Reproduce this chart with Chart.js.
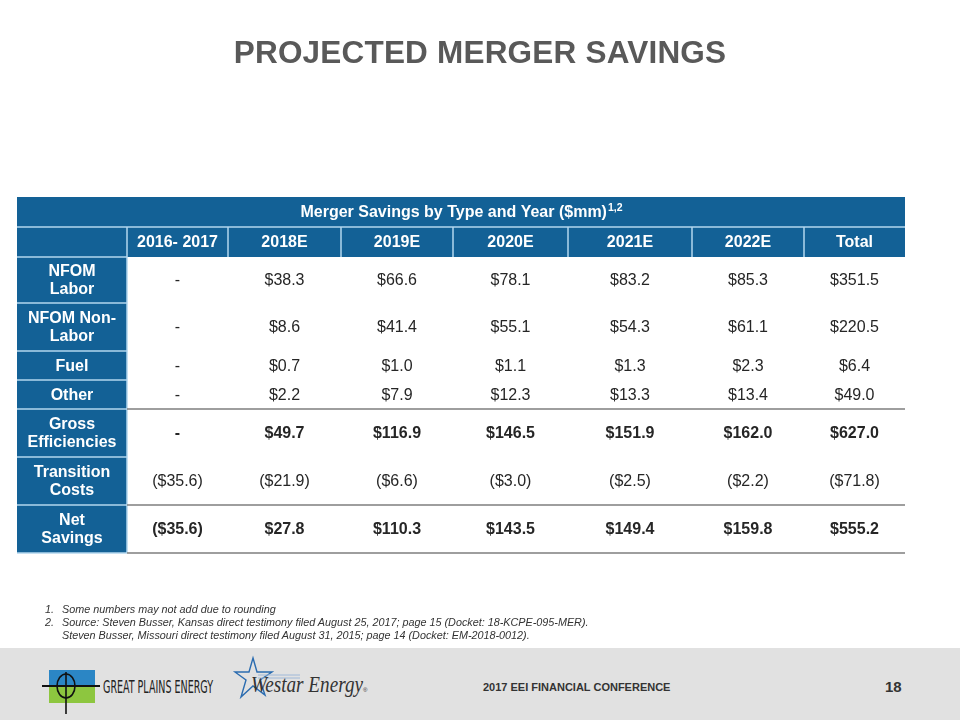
<!DOCTYPE html>
<html>
<head>
<meta charset="utf-8">
<script src="https://cdn.jsdelivr.net/npm/chart.js@4"></script>
<style>
  body { margin: 0; width: 960px; height: 720px; background: #ffffff; position: relative; overflow: hidden; font-family: "Liberation Sans", Arial, sans-serif; }
  #wrap { position: absolute; left: 0; top: 0; width: 960px; height: 720px; }
  .title { position: absolute; left: 0; width: 960px; top: 34px; text-align: center; font-size: 31.5px; font-weight: bold; color: #595959; letter-spacing: 0.2px; }
  .notes { position: absolute; left: 45px; top: 603px; font-size: 10.8px; font-style: italic; color: #333333; line-height: 13px; }
  .notes div { position: relative; padding-left: 17px; }
  .notes span { position: absolute; left: 0; }
  .footer { position: absolute; left: 0; top: 648px; width: 960px; height: 72px; background: #e1e1e1; }
  .conf { position: absolute; left: 483px; top: 33px; font-size: 11px; font-weight: bold; color: #333333; }
  .page { position: absolute; left: 885px; top: 30px; font-size: 15px; font-weight: bold; color: #333333; }
</style>
</head>
<body>
<div id="wrap"><canvas id="tableChart" width="960" height="720"></canvas></div>

<div class="title">PROJECTED MERGER SAVINGS</div>

<div class="notes">
  <div><span>1.</span>Some numbers may not add due to rounding</div>
  <div><span>2.</span>Source: Steven Busser, Kansas direct testimony filed August 25, 2017; page 15 (Docket: 18-KCPE-095-MER).</div>
  <div>Steven Busser, Missouri direct testimony filed August 31, 2015; page 14 (Docket: EM-2018-0012).</div>
</div>

<div class="footer">
  <svg width="400" height="72" style="position:absolute;left:0;top:0">
    <rect x="49" y="22" width="46" height="16" fill="#2b86c5"/>
    <rect x="49" y="38" width="46" height="17" fill="#8dc63f"/>
    <line x1="42" y1="38" x2="100" y2="38" stroke="#111" stroke-width="2"/>
    <ellipse cx="66" cy="38" rx="9" ry="12" fill="none" stroke="#111" stroke-width="1.6"/>
    <line x1="66" y1="24" x2="66" y2="66" stroke="#111" stroke-width="1.6"/>
    <text x="103" y="45" font-family="DejaVu Sans Condensed, Liberation Sans Narrow, sans-serif" font-size="17" fill="#222" textLength="110" lengthAdjust="spacingAndGlyphs">GREAT PLAINS ENERGY</text>
    <polygon points="253,10 257,24 272,24 260,32 265,47 253,38 241,49 246,32 235,24 249,24" fill="none" stroke="#2b6cb0" stroke-width="1.4"/>
    <line x1="258" y1="27" x2="300" y2="27" stroke="#9fb8d8" stroke-width="1"/>
    <line x1="258" y1="30" x2="300" y2="30" stroke="#9fb8d8" stroke-width="1"/>
    <text x="251" y="44" font-family="Liberation Serif, serif" font-style="italic" font-size="24" fill="#333" textLength="112" lengthAdjust="spacingAndGlyphs">Westar Energy</text>
    <text x="363" y="44" font-family="Liberation Sans, sans-serif" font-size="6" fill="#333">®</text>
  </svg>
  <div class="conf">2017 EEI FINANCIAL CONFERENCE</div>
  <div class="page">18</div>
</div>

<script>
// table content
const tableTitle = "Merger Savings by Type and Year ($mm)";
const tableTitleNote = "1,2";

const columns = ["2016- 2017", "2018E", "2019E", "2020E", "2021E", "2022E", "Total"];

const rowLabels = [
    ["NFOM", "Labor"],
    ["NFOM Non-", "Labor"],
    ["Fuel"],
    ["Other"],
    ["Gross", "Efficiencies"],
    ["Transition", "Costs"],
    ["Net", "Savings"]
];

// null = "-"
const nfomLabor    = [null, 38.3, 66.6, 78.1, 83.2, 85.3, 351.5];
const nfomNonLabor = [null, 8.6, 41.4, 55.1, 54.3, 61.1, 220.5];
const fuel         = [null, 0.7, 1.0, 1.1, 1.3, 2.3, 6.4];
const other        = [null, 2.2, 7.9, 12.3, 13.3, 13.4, 49.0];
const grossEff     = [null, 49.7, 116.9, 146.5, 151.9, 162.0, 627.0];
const transition   = [-35.6, -21.9, -6.6, -3.0, -2.5, -2.2, -71.8];
const netSavings   = [-35.6, 27.8, 110.3, 143.5, 149.4, 159.8, 555.2];

const rowValues = [nfomLabor, nfomNonLabor, fuel, other, grossEff, transition, netSavings];
const boldRows = [4, 6];
const ruleBelowRows = [3, 5, 6];

// layout units (label column first, then data columns; two header rows then data rows)
const colWidths = [110, 101, 113, 112, 115, 124, 112, 101];
const rowHeights = [30, 30, 46, 48, 29, 29, 48, 48, 48];

const BLUE = "#136196";
const LIGHT = "#b3d6ee";
const FONT = "'Liberation Sans', Arial, sans-serif";

function edges(sizes)
{
    const out = [0];
    sizes.forEach(s => out.push(out[out.length - 1] + s));
    return out;
}

const colEdges = edges(colWidths);
const rowEdges = edges(rowHeights);

function mid(list, i)
{
    return (list[i] + list[i + 1]) / 2;
}

function formatValue(v)
{
    if(v === null) return "-";
    if(v < 0) return "($" + Math.abs(v).toFixed(1) + ")";
    return "$" + v.toFixed(1);
}

const datasets = rowValues.map((values, r) => ({
    label: rowLabels[r].join(" "),
    data: values.map((v, c) => ({
        x: mid(colEdges, c + 1),
        y: mid(rowEdges, r + 2),
        v: v
    })),
    pointRadius: 0,
    pointHoverRadius: 0
}));

const tablePlugin = {
    id: "tableCells",

    beforeDatasetsDraw(chart)
    {
        const ctx = chart.ctx;
        const xs = chart.scales.x;
        const ys = chart.scales.y;
        const X = u => xs.getPixelForValue(u);
        const Y = u => ys.getPixelForValue(u);

        const left = X(0);
        const right = X(colEdges[colEdges.length - 1]);
        const labelRight = X(colEdges[1]);
        const bottom = Y(rowEdges[rowEdges.length - 1]);

        ctx.save();

        // header rows
        ctx.fillStyle = BLUE;
        ctx.fillRect(left, Y(0), right - left, Y(rowEdges[2]) - Y(0));
        // label column
        ctx.fillRect(left, Y(rowEdges[2]), labelRight - left, bottom - Y(rowEdges[2]));

        ctx.strokeStyle = LIGHT;
        ctx.lineWidth = 1.5;

        ctx.beginPath();
        ctx.moveTo(left, Y(rowEdges[1]));
        ctx.lineTo(right, Y(rowEdges[1]));
        for(let c = 1; c < colEdges.length - 1; c++)
        {
            ctx.moveTo(X(colEdges[c]), Y(rowEdges[1]));
            ctx.lineTo(X(colEdges[c]), Y(rowEdges[2]));
        }
        for(let r = 2; r < rowEdges.length - 1; r++)
        {
            ctx.moveTo(left, Y(rowEdges[r]));
            ctx.lineTo(labelRight, Y(rowEdges[r]));
        }
        ctx.moveTo(left, bottom);
        ctx.lineTo(labelRight, bottom);
        ctx.moveTo(labelRight, Y(rowEdges[2]));
        ctx.lineTo(labelRight, bottom);
        ctx.stroke();

        // grey rules in the data area
        ctx.strokeStyle = "#7f7f7f";
        ctx.lineWidth = 1.5;
        ctx.beginPath();
        ruleBelowRows.forEach(r =>
        {
            const y = Y(rowEdges[r + 3]);
            ctx.moveTo(labelRight, y);
            ctx.lineTo(right, y);
        });
        ctx.stroke();

        ctx.restore();
    },

    afterDatasetsDraw(chart)
    {
        const ctx = chart.ctx;
        const xs = chart.scales.x;
        const ys = chart.scales.y;
        const X = u => xs.getPixelForValue(u);
        const Y = u => ys.getPixelForValue(u);

        ctx.save();
        ctx.textAlign = "center";
        ctx.textBaseline = "middle";

        // table title with superscript note
        ctx.fillStyle = "#ffffff";
        ctx.font = "bold 16px " + FONT;
        const tW = ctx.measureText(tableTitle).width;
        ctx.font = "bold 10.5px " + FONT;
        const nW = ctx.measureText(tableTitleNote).width;
        const cx = (X(0) + X(colEdges[colEdges.length - 1])) / 2;
        const ty = Y(mid(rowEdges, 0)) + 1;
        const startX = cx - (tW + nW) / 2;
        ctx.textAlign = "left";
        ctx.font = "bold 16px " + FONT;
        ctx.fillText(tableTitle, startX, ty);
        ctx.font = "bold 10.5px " + FONT;
        ctx.fillText(tableTitleNote, startX + tW + 1, ty - 5);

        // column headers
        ctx.textAlign = "center";
        ctx.font = "bold 16px " + FONT;
        columns.forEach((label, c) =>
        {
            ctx.fillText(label, X(mid(colEdges, c + 1)), Y(mid(rowEdges, 1)) + 1);
        });

        // row labels
        rowLabels.forEach((lines, r) =>
        {
            const yc = Y(mid(rowEdges, r + 2));
            const lx = X(mid(colEdges, 0));
            lines.forEach((line, k) =>
            {
                ctx.fillText(line, lx, yc + (k - (lines.length - 1) / 2) * 18 + 1);
            });
        });

        // values, placed from the dataset elements
        ctx.fillStyle = "#262626";
        chart.data.datasets.forEach((ds, r) =>
        {
            const meta = chart.getDatasetMeta(r);
            ctx.font = (boldRows.includes(r) ? "bold " : "") + "16px " + FONT;
            meta.data.forEach((pt, c) =>
            {
                ctx.fillText(formatValue(ds.data[c].v), pt.x, pt.y + 1);
            });
        });

        ctx.restore();
    }
};

new Chart(document.getElementById("tableChart"), {
    type: "scatter",
    data: { datasets: datasets },
    options: {
        responsive: false,
        animation: false,
        devicePixelRatio: 1,
        events: [],
        layout: { padding: { left: 17, right: 55, top: 197, bottom: 167 } },
        scales: {
            x: { type: "linear", display: false, min: 0, max: colEdges[colEdges.length - 1] },
            y: { type: "linear", display: false, reverse: true, min: 0, max: rowEdges[rowEdges.length - 1] }
        },
        plugins: {
            legend: { display: false },
            tooltip: { enabled: false }
        }
    },
    plugins: [tablePlugin]
});
</script>
</body>
</html>
